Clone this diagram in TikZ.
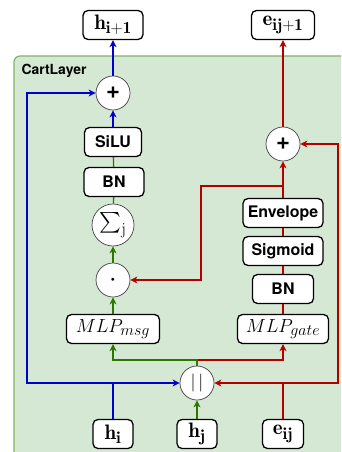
\RequirePackage{fix-cm}
\documentclass[tikz,border=0pt]{standalone}
\usepackage{exscale}
\usepackage{fontspec}
\setsansfont{TeX Gyre Heros}
\DeclareMathSizes{19}{19}{16}{12}
\DeclareMathSizes{21}{21}{17}{13}
\usetikzlibrary{arrows.meta,positioning}
\definecolor{bleu}{HTML}{0000CC}
\definecolor{vert}{HTML}{2D7600}
\definecolor{rouge}{HTML}{B20000}
\definecolor{fond}{HTML}{D5E8D4}
\definecolor{bord}{HTML}{82B366}
\tikzset{
  boite/.style={draw=black,line width=1.3pt,rounded corners=5pt,fill=white,
    minimum height=29bp,inner sep=2pt,font=\sffamily\bfseries\fontsize{16}{18}\selectfont},
  mboite/.style={boite,font=\fontsize{21}{23}\selectfont},
  mlpboite/.style={boite,font=\fontsize{19}{21}\selectfont},
  rond/.style={circle,draw=black!75,line width=0.7pt,fill=white,minimum size=34bp,inner sep=0pt},
  fleche/.style={line width=1.3pt,-{Stealth[length=7bp,width=7bp,inset=2bp]}},
  trait/.style={line width=1.3pt},
}
\begin{document}
\begin{tikzpicture}[x=1bp,y=-1bp]
    \useasboundingbox (0,0) rectangle (341,452);
    \clip (0,0) rectangle (341,452);
 \draw[fill=fond,draw=bord,line width=1.2pt,rounded corners=6pt] (14,56) rectangle (380,490);
 \node[anchor=west,font=\sffamily\bfseries\fontsize{14}{16}\selectfont] (titre) at (18,71) {CartLayer};

    % points de passage
    \path[coordinate] (27,383) coordinate(gauche)
                      (338,383) coordinate(droite)
                      (197,360) coordinate(sep)
                      (201,186) coordinate(coude);

 % colonne h
 \node[mboite,minimum width=60bp] (hsuiv) at (113,25) {$\mathbf{h_{i+1}}$};
 \node[rond,font=\sffamily\bfseries\fontsize{24}{24}\selectfont] (plush) at (113,93) {+};
 \node[boite,minimum width=57bp] (silu) at (113,142) {SiLU};
 \node[boite,minimum width=60bp] (bnh) at (114,182) {BN};
 \node[rond,minimum size=42bp,font=\fontsize{21}{23}\selectfont] (somme) at (113,225) {$\sum_{\mathrm{j}}$};
 \node[rond,font=\fontsize{7}{7}\selectfont] (prod) at (113,280) {$\bullet$};
 \node[mlpboite,minimum width=93bp] (mlpm) at (113,329) {$MLP_{msg}$};

 % colonne e
 \node[mboite,minimum width=63bp] (esuiv) at (283,25) {$\mathbf{e_{ij+1}}$};
 \node[rond,font=\sffamily\bfseries\fontsize{24}{24}\selectfont] (plusr) at (283,144) {+};
 \node[boite,minimum width=80bp] (env) at (283,213) {Envelope};
 \node[boite,minimum width=80bp] (sig) at (283,251) {Sigmoid};
 \node[boite,minimum width=61bp] (bnr) at (283,289) {BN};
 \node[mlpboite,minimum width=91bp] (mlpg) at (283,329) {$MLP_{gate}$};

 % entrees
 \node[rond,font=\fontsize{18}{20}\selectfont] (concat) at (197,383) {$|\,|$};
 \node[mboite,minimum width=40bp] (hi) at (113,434) {$\mathbf{h_i}$};
 \node[mboite,minimum width=40bp] (hj) at (197,434) {$\mathbf{h_j}$};
 \node[mboite,minimum width=41bp] (eij) at (283,434) {$\mathbf{e_{ij}}$};

 % liaisons
 \draw[fleche,bleu] (plush) -- (hsuiv);
 \draw[fleche,bleu] (silu) -- (plush);
 \draw[trait,vert] (bnh) -- (silu);
 \draw[trait,vert] (somme) -- (bnh);
 \draw[fleche,vert] (prod) -- (somme);
 \draw[fleche,vert] (mlpm) -- (prod);
 \draw[fleche,rouge] (sep) -| (mlpg.south);
 \draw[fleche,vert] (concat.north) -- (sep) -| (mlpm.south);
 \draw[fleche,vert] (hj) -- (concat);
 \draw[fleche,bleu] (hi.north) |- (concat.west);
 \draw[fleche,bleu] (hi |- concat) -- (gauche) |- (plush.west);
 \draw[fleche,rouge] (eij.north) |- (concat.east);
 \draw[fleche,rouge] (eij |- concat) -- (droite) |- (plusr.east);
 \draw[trait,rouge] (mlpg) -- (bnr) -- (sig) -- (env);
 \draw[fleche,rouge] (env) -- (plusr);
 \draw[fleche,rouge] (env |- coude) -- (coude) |- (prod.east);
 \draw[fleche,rouge] (plusr) -- (esuiv);
    
\end{tikzpicture}
\end{document}
